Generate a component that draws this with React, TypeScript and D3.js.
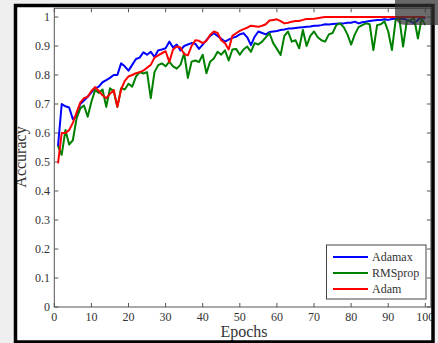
import React from "react";
import * as d3 from "d3";

const epochs: number[] = Array.from({ length: 100 }, (_, i) => i + 1);

const adamax: number[] = [
  0.555, 0.70, 0.692, 0.688, 0.648, 0.66, 0.70, 0.712, 0.725, 0.74,
  0.754, 0.76, 0.775, 0.782, 0.79, 0.80, 0.80, 0.84, 0.83, 0.815,
  0.835, 0.855, 0.86, 0.878, 0.87, 0.88, 0.862, 0.885, 0.888, 0.892,
  0.915, 0.895, 0.905, 0.885, 0.90, 0.905, 0.91, 0.908, 0.89, 0.905,
  0.92, 0.935, 0.944, 0.935, 0.925, 0.915, 0.922, 0.928, 0.932, 0.94,
  0.944, 0.93, 0.903, 0.932, 0.95, 0.945, 0.94, 0.948, 0.95, 0.952,
  0.955, 0.957, 0.96, 0.96, 0.962, 0.964, 0.965, 0.966, 0.967, 0.97,
  0.97, 0.972, 0.975, 0.974, 0.976, 0.977, 0.978, 0.978, 0.98, 0.98,
  0.984, 0.978, 0.982, 0.984, 0.986, 0.988, 0.99, 0.99, 0.992, 0.99,
  0.993, 0.995, 0.994, 0.995, 0.99, 0.985, 0.978, 0.99, 1.0, 0.995,
];

const rmsprop: number[] = [
  0.555, 0.525, 0.61, 0.56, 0.575, 0.65, 0.685, 0.695, 0.656, 0.708,
  0.748, 0.738, 0.75, 0.69, 0.754, 0.745, 0.69, 0.754, 0.75, 0.77,
  0.76, 0.794, 0.81, 0.805, 0.81, 0.72, 0.81, 0.834, 0.84, 0.83,
  0.846, 0.83, 0.822, 0.835, 0.875, 0.79, 0.846, 0.85, 0.845, 0.87,
  0.806, 0.846, 0.857, 0.88, 0.87, 0.885, 0.85, 0.888, 0.89, 0.87,
  0.888, 0.898, 0.88, 0.91, 0.905, 0.915, 0.93, 0.944, 0.91, 0.89,
  0.869, 0.935, 0.95, 0.915, 0.92, 0.892, 0.955, 0.90, 0.935, 0.95,
  0.93, 0.92, 0.915, 0.94, 0.945, 0.972, 0.978, 0.965, 0.94, 0.905,
  0.94, 0.965, 0.972, 0.978, 0.975, 0.886, 0.972, 0.975, 0.985, 0.95,
  0.886, 0.99, 0.995, 0.898, 0.985, 0.99, 0.995, 0.926, 0.995, 0.972,
];

const adam: number[] = [
  0.495, 0.60, 0.60, 0.61, 0.635, 0.67, 0.705, 0.72, 0.725, 0.745,
  0.758, 0.745, 0.73, 0.72, 0.735, 0.748, 0.69, 0.75, 0.78, 0.795,
  0.80, 0.806, 0.81, 0.815, 0.825, 0.835, 0.86, 0.868, 0.875, 0.882,
  0.845, 0.888, 0.898, 0.895, 0.872, 0.868, 0.90, 0.92, 0.918, 0.91,
  0.918, 0.938, 0.95, 0.945, 0.92, 0.91, 0.888, 0.935, 0.944, 0.952,
  0.958, 0.963, 0.97, 0.968, 0.966, 0.97, 0.975, 0.988, 0.99, 0.992,
  0.986, 0.978, 0.98, 0.984, 0.986, 0.986, 0.99, 0.993, 0.993, 0.994,
  0.996, 0.998, 1.0, 1.0, 1.0, 1.0, 1.0, 1.0, 1.0, 1.0,
  1.0, 1.0, 1.0, 1.0, 1.0, 1.0, 1.0, 1.0, 1.0, 1.0,
  1.0, 1.0, 1.0, 1.0, 1.0, 1.0, 1.0, 1.0, 1.0, 1.0,
];

const seriesNames: string[] = ["Adamax", "RMSprop", "Adam"];
const seriesColors: string[] = ["#0000ff", "#008000", "#ff0000"];
const xTicks: number[] = [0, 10, 20, 30, 40, 50, 60, 70, 80, 90, 100];
const yTicks: number[] = [0, 0.1, 0.2, 0.3, 0.4, 0.5, 0.6, 0.7, 0.8, 0.9, 1];
const yTickLabels: string[] = ["0", "0.1", "0.2", "0.3", "0.4", "0.5", "0.6", "0.7", "0.8", "0.9", "1"];

const W = 438;
const H = 343;
const left = 54.3;
const right = 430.9;
const bottom = 307;
const top = 8.3;

export default function App() {
  const x = d3.scaleLinear().domain([0, 101.5]).range([left, right]);
  const y = d3.scaleLinear().domain([0, 1.03]).range([bottom, top]);
  const line = d3
    .line<number>()
    .x((_, i) => x(epochs[i]))
    .y((d) => y(d));
  const data = [adamax, rmsprop, adam];
  const font = "'Liberation Serif', 'Times New Roman', serif";
  const axisColor = "#555";
  const textColor = "#333";
  const tl = 4;

  return (
    <svg
      width={W}
      height={H}
      style={{ position: "absolute", left: 0, top: 0, display: "block" }}
      fontFamily={font}
    >
      <rect x={0} y={0} width={W} height={H} fill="#efefef" />
      <rect x={15.5} y={5.5} width={417.5} height={340} fill="#ffffff" />

      {/* axes box */}
      <rect
        x={left}
        y={top}
        width={right - left}
        height={bottom - top}
        fill="none"
        stroke={axisColor}
        strokeWidth={1}
      />
      {xTicks.map((t) => (
        <g key={"x" + t}>
          <line x1={x(t)} x2={x(t)} y1={bottom} y2={bottom - tl} stroke={axisColor} />
          <line x1={x(t)} x2={x(t)} y1={top} y2={top + tl} stroke={axisColor} />
          <text
            x={x(t)}
            y={320.5}
            textAnchor="middle"
            fontSize={12}
            fill={textColor}
          >
            {t}
          </text>
        </g>
      ))}
      {yTicks.map((t, i) => (
        <g key={"y" + t}>
          <line x1={left} x2={left + tl} y1={y(t)} y2={y(t)} stroke={axisColor} />
          <line x1={right} x2={right - tl} y1={y(t)} y2={y(t)} stroke={axisColor} />
          <text
            x={50}
            y={y(t)}
            dy="0.35em"
            textAnchor="end"
            fontSize={12}
            fill={textColor}
          >
            {yTickLabels[i]}
          </text>
        </g>
      ))}

      {data.map((s, i) => (
        <path
          key={seriesNames[i]}
          d={line(s) || ""}
          fill="none"
          stroke={seriesColors[i]}
          strokeWidth={2}
          strokeLinejoin="round"
        />
      ))}

      {/* legend */}
      <rect x={326.5} y={245} width={99.5} height={54} fill="#ffffff" stroke="#444" strokeWidth={1} />
      {seriesNames.map((n, i) => (
        <g key={"lg" + n}>
          <line
            x1={333}
            x2={368}
            y1={257 + i * 16}
            y2={257 + i * 16}
            stroke={seriesColors[i]}
            strokeWidth={2}
          />
          <text x={372} y={257 + i * 16} dy="0.35em" fontSize={12} fill={textColor}>
            {n}
          </text>
        </g>
      ))}

      <text x={244} y={337} textAnchor="middle" fontSize={16} fill={textColor}>
        Epochs
      </text>
      <text
        transform="translate(26,157) rotate(-90)"
        textAnchor="middle"
        fontSize={16}
        fill={textColor}
      >
        Accuracy
      </text>

      {/* screenshot frame */}
      <rect x={15.5} y={5.5} width={417.5} height={336.5} fill="none" stroke="#000" strokeWidth={3.5} />
      <path d="M395,0 H438 V25 H406 Q395,25 395,14 Z" fill="#333" opacity={0.72} />
    </svg>
  );
}
